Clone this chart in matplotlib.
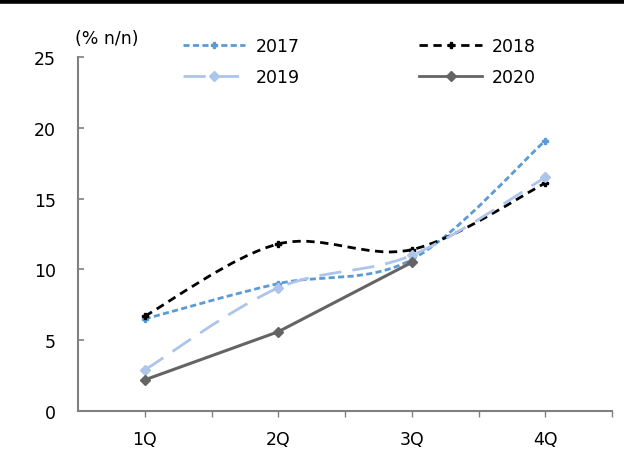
import matplotlib
matplotlib.use("Agg")
import matplotlib.pyplot as plt
from matplotlib.path import Path
from matplotlib.patches import PathPatch
from matplotlib.lines import Line2D

plt.rcParams['font.family'] = ['DejaVu Sans']

quarters = ["1Q", "2Q", "3Q", "4Q"]
y2017 = [6.5, 9.0, 10.7, 19.1]
y2018 = [6.7, 11.8, 11.4, 16.1]
y2019 = [2.9, 8.7, 11.0, 16.5]
y2020 = [2.2, 5.6, 10.5]

# categories sit on odd positions so ticks land between them too
xpos = [1, 3, 5, 7]


def smooth_path(xs, ys):
    # bezier path through the points, same style as a spreadsheet "smoothed line"
    pts = list(zip(xs, ys))
    verts = [pts[0]]
    codes = [Path.MOVETO]
    n = len(pts)
    for i in range(n - 1):
        p0 = pts[i - 1] if i > 0 else pts[i]
        p1 = pts[i]
        p2 = pts[i + 1]
        p3 = pts[i + 2] if i + 2 < n else pts[i + 1]
        c1 = (p1[0] + (p2[0] - p0[0]) / 6, p1[1] + (p2[1] - p0[1]) / 6)
        c2 = (p2[0] - (p3[0] - p1[0]) / 6, p2[1] - (p3[1] - p1[1]) / 6)
        verts += [c1, c2, p2]
        codes += [Path.CURVE4] * 3
    return Path(verts, codes)


fig = plt.figure(figsize=(6.24, 4.52), dpi=100)
ax = fig.add_axes([0.125, 0.0885, 0.856, 0.783])

series = [
    ("2017", y2017, "#5b9bd5", (0, (2.2, 1.2)), "P", 5, True),
    ("2018", y2018, "#000000", (0, (3, 2)), "P", 5, True),
    ("2019", y2019, "#adc5ea", (0, (8, 4)), "D", 5, True),
    ("2020", y2020, "#646464", "-", "D", 5, False),
]

handles = {}
for name, vals, col, ls, mk, ms, smooth in series:
    xs = xpos[:len(vals)]
    if smooth:
        patch = PathPatch(smooth_path(xs, vals), fill=False, edgecolor=col,
                          linewidth=2.0, linestyle=ls, capstyle='butt')
        ax.add_patch(patch)
    else:
        ax.plot(xs, vals, color=col, linewidth=2.2, linestyle=ls)
    ax.plot(xs, vals, linestyle='none', marker=mk, markersize=ms,
            color=col, markeredgecolor=col)
    handles[name] = Line2D([], [], color=col, linewidth=2.0, linestyle=ls,
                           marker=mk, markersize=ms, label=name)

ax.set_xlim(0, 8)
ax.set_ylim(0, 25)
ax.set_yticks([0, 5, 10, 15, 20, 25])
ax.set_xticks(xpos)
ax.set_xticklabels(quarters)
ax.set_xticks([2, 4, 6, 8], minor=True)

for side in ["top", "right"]:
    ax.spines[side].set_visible(False)
for side in ["left", "bottom"]:
    ax.spines[side].set_color("#808080")
    ax.spines[side].set_linewidth(1.5)

ax.tick_params(axis='y', direction='in', length=4, width=1.2, color="#808080",
               labelsize=12.5, pad=16)
ax.tick_params(axis='x', which='both', direction='out', length=4, width=1.0,
               color="#808080", labelsize=12.5, pad=10)

fig.text(0.12, 0.893, "(% n/n)", fontsize=12.5, ha='left', va='bottom')

# legend fills column by column: 2017/2019 left, 2018/2020 right
order = ["2017", "2019", "2018", "2020"]
fig.legend(handles=[handles[k] for k in order], ncol=2, loc='upper left',
           bbox_to_anchor=(0.268, 0.951), frameon=False, fontsize=12.5,
           handlelength=3.6, columnspacing=6.9, handletextpad=0.58,
           labelspacing=0.75)

# heavy rule along the top edge
fig.add_artist(Line2D([0, 1], [0.996, 0.996], color="black", linewidth=4,
                      transform=fig.transFigure))

fig.savefig("out.png", dpi=100)
